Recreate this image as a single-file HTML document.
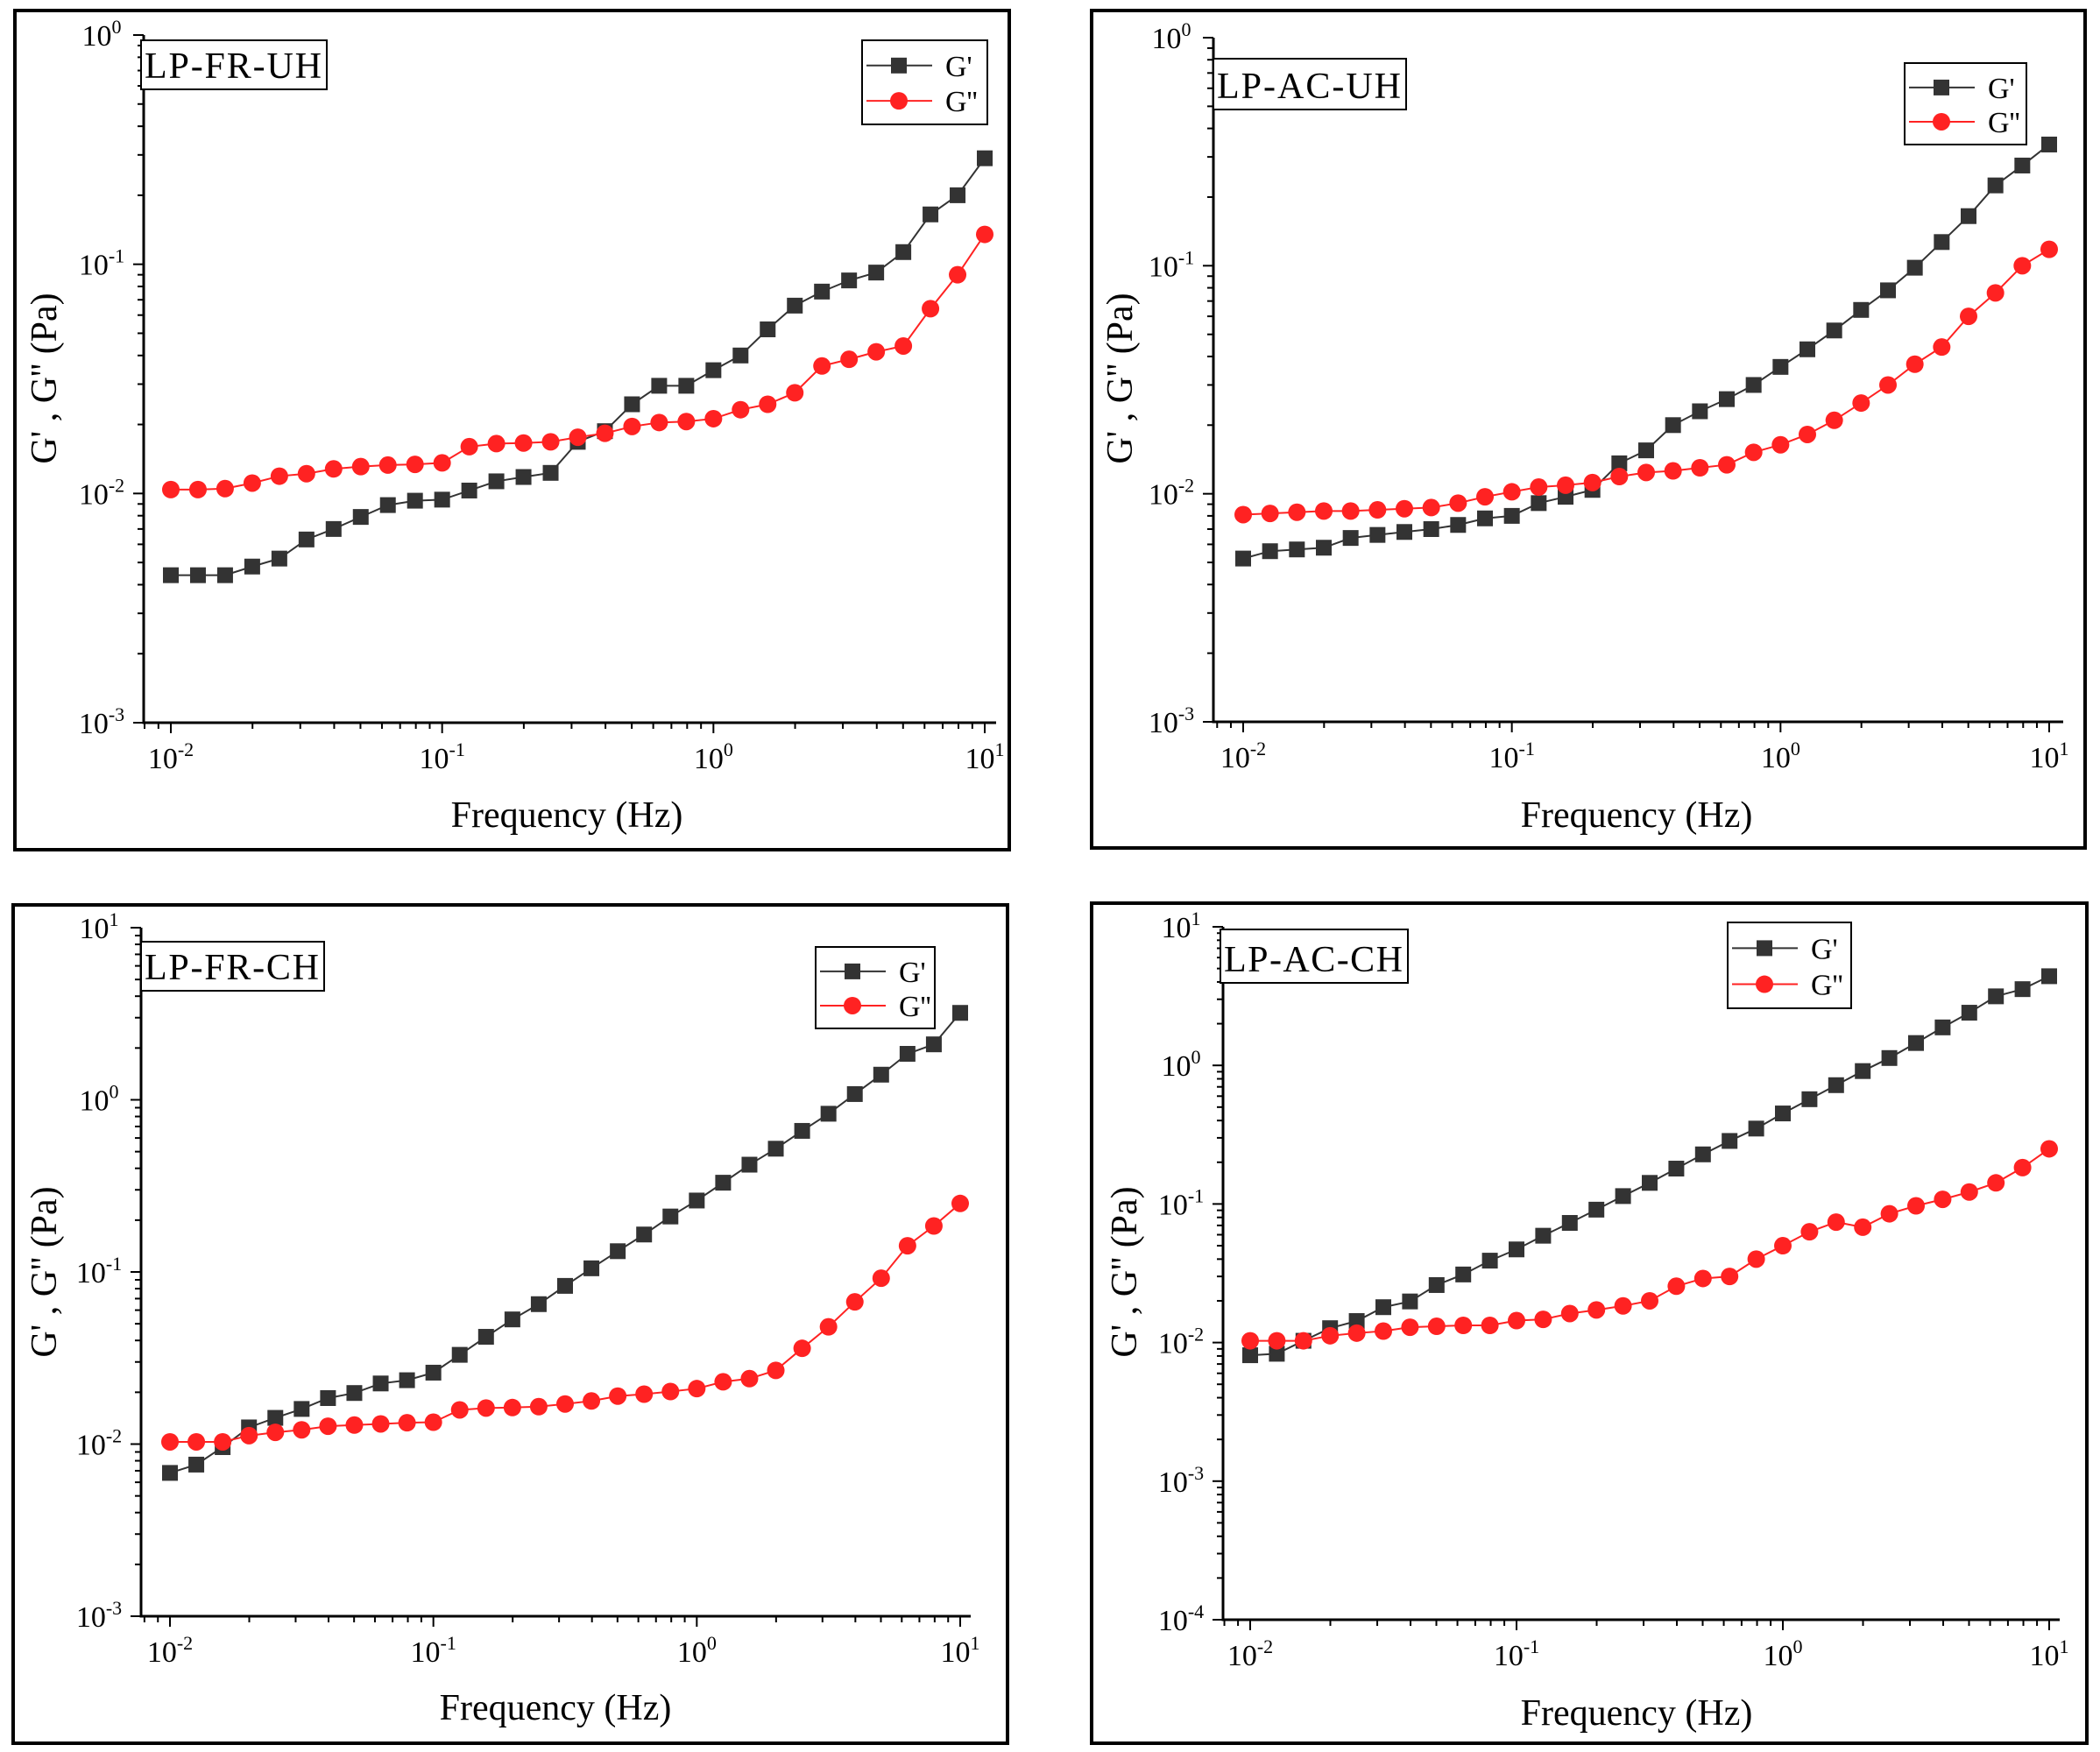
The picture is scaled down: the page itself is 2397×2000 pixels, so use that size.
<!DOCTYPE html>
<html><head><meta charset="utf-8"><style>
html,body{margin:0;padding:0;background:#fff}
svg{display:block}
svg text{font-family:"Liberation Serif","Times New Roman",serif;fill:#000}
</style></head><body>
<svg id="fig" width="2397" height="2000" viewBox="0 0 2397 2000" xmlns="http://www.w3.org/2000/svg" font-family="Liberation Serif, serif"></svg>
<script>
const freqs = Array.from({length:31},(_,i)=>Math.pow(10,-2+i*0.1));
const p1G1 = [0.0044,0.0044,0.0044,0.0048,0.0052,0.0063,0.0070,0.0079,0.0089,0.0093,0.0094,0.0103,0.0113,0.0118,0.0123,0.0168,0.0187,0.0245,0.0295,0.0295,0.0345,0.040,0.052,0.066,0.076,0.085,0.092,0.113,0.165,0.20,0.29];
const p1G2 = [0.0104,0.0104,0.0105,0.0111,0.0119,0.0122,0.0128,0.0131,0.0133,0.0134,0.0136,0.0160,0.0165,0.0166,0.0168,0.0176,0.0183,0.0196,0.0204,0.0206,0.0212,0.0232,0.0245,0.0275,0.036,0.0385,0.0415,0.044,0.064,0.09,0.135];
const p2G1 = [0.0052,0.0056,0.0057,0.0058,0.0064,0.0066,0.0068,0.0070,0.0073,0.0078,0.0080,0.0091,0.0097,0.0104,0.0136,0.0155,0.020,0.023,0.026,0.030,0.036,0.043,0.052,0.064,0.078,0.098,0.127,0.165,0.225,0.275,0.34];
const p2G2 = [0.0081,0.0082,0.0083,0.0084,0.0084,0.0085,0.0086,0.0087,0.0091,0.0097,0.0102,0.0107,0.0109,0.0112,0.0119,0.0124,0.0126,0.0130,0.0134,0.0152,0.0164,0.0182,0.021,0.025,0.030,0.037,0.044,0.060,0.076,0.100,0.118];
const p3G1 = [0.0068,0.0076,0.0096,0.0125,0.0142,0.016,0.0185,0.0198,0.0225,0.0235,0.026,0.033,0.042,0.053,0.065,0.083,0.105,0.132,0.165,0.21,0.26,0.33,0.42,0.52,0.66,0.83,1.08,1.4,1.85,2.1,3.2];
const p3G2 = [0.0103,0.0103,0.0103,0.0112,0.0117,0.0121,0.0127,0.0129,0.0131,0.0133,0.0134,0.0158,0.0162,0.0163,0.0165,0.0171,0.0178,0.0190,0.0195,0.0202,0.0210,0.0230,0.0240,0.0268,0.036,0.048,0.067,0.092,0.142,0.185,0.25];
const p4G1 = [0.0081,0.0083,0.0103,0.0127,0.0143,0.018,0.0198,0.026,0.031,0.039,0.047,0.059,0.073,0.091,0.114,0.142,0.18,0.228,0.285,0.35,0.45,0.57,0.72,0.91,1.13,1.45,1.88,2.4,3.15,3.55,4.4];
const p4G2 = [0.0103,0.0103,0.0103,0.0112,0.0117,0.0121,0.0129,0.0131,0.0133,0.0133,0.0144,0.0147,0.0162,0.0172,0.0184,0.0200,0.0255,0.0290,0.0300,0.0400,0.050,0.063,0.074,0.068,0.085,0.097,0.108,0.122,0.142,0.183,0.25];
const xTickExps = [-2,-1,0,1];
const p1YExps = [-3,-2,-1,0];
const p2YExps = [-3,-2,-1,0];
const p3YExps = [-3,-2,-1,0,1];
const p4YExps = [-4,-3,-2,-1,0,1];
const panelNames = ["LP-FR-UH","LP-AC-UH","LP-FR-CH","LP-AC-CH"];

const NS="http://www.w3.org/2000/svg";
const svg=document.getElementById('fig');
function mk(tag,attrs,parent){const e=document.createElementNS(NS,tag);for(const k in attrs)e.setAttribute(k,attrs[k]);(parent||svg).appendChild(e);return e;}
const FF='Liberation Serif, serif';

const panels=[
 {frame:[17,12,1152,970],ax:[164,40,1137,825],xr:[195,1124],yr:[-3,0],ye:p1YExps,g1:p1G1,g2:p1G2,lab:[161,46,373,102],leg:[984,46,1127,142],yl:[50,432],xl:[647,930]},
 {frame:[1246,12,2380,968],ax:[1385,43,2355,824],xr:[1419,2339],yr:[-3,0],ye:p2YExps,g1:p2G1,g2:p2G2,lab:[1385,67,1605,125],leg:[2174,72,2313,165],yl:[1278,432],xl:[1868,930]},
 {frame:[15,1033,1150,1990],ax:[161,1059,1108,1845],xr:[194,1096],yr:[-3,1],ye:p3YExps,g1:p3G1,g2:p3G2,lab:[161,1075,370,1131],leg:[931,1081,1067,1174],yl:[50,1452],xl:[634,1949]},
 {frame:[1246,1031,2382,1990],ax:[1396,1058,2351,1849],xr:[1427,2339],yr:[-4,1],ye:p4YExps,g1:p4G1,g2:p4G2,lab:[1393,1061,1607,1122],leg:[1972,1053,2113,1151],yl:[1283,1452],xl:[1868,1955]}
];

panels.forEach((P,pi)=>{
 const g=mk('g',{});
 
 
 const [ax0,ay0,ax1,ay1]=P.ax;
 const X=v=>P.xr[0]+(Math.log10(v)+2)/3*(P.xr[1]-P.xr[0]);
 const Y=v=>ay1-(Math.log10(v)-P.yr[0])/(P.yr[1]-P.yr[0])*(ay1-ay0);
 const fr=mk('rect',{x:P.frame[0],y:P.frame[1],width:P.frame[2]-P.frame[0],height:P.frame[3]-P.frame[1],fill:'none',stroke:'#000','stroke-width':4},g);
 
 
 const axes=mk('path',{d:`M${ax0},${ay0}V${ay1}H${ax1}`,fill:'none',stroke:'#000','stroke-width':3},g);
 
 
 for(let e=-2;e<=1;e++){
  for(let m=1;m<=9;m++){const v=m*Math.pow(10,e);if(v>10.5)break;const x=X(v);
   mk('line',{x1:x,y1:ay1,x2:x,y2:ay1+(m===1?12:7),stroke:'#000','stroke-width':2},g);}
 }
 [0.008,0.009].forEach(v=>{const x=X(v);if(x>ax0)mk('line',{x1:x,y1:ay1,x2:x,y2:ay1+7,stroke:'#000','stroke-width':2},g);});
 xTickExps.forEach(e=>{
  const t=mk('text',{x:X(Math.pow(10,e)),y:ay1+52,'font-size':34,'text-anchor':'middle','font-family':FF},g);
  
  
  t.innerHTML='10<tspan dy="-14" font-size="22">'+e+'</tspan>';
 });
 for(let e=P.yr[0];e<=P.yr[1];e++){
  for(let m=1;m<=9;m++){const v=m*Math.pow(10,e);if(Math.log10(v)>P.yr[1]+1e-9)break;const y=Y(v);
   mk('line',{x1:ax0,y1:y,x2:ax0-(m===1?12:7),y2:y,stroke:'#000','stroke-width':2},g);}
 }
 P.ye.forEach(e=>{
  const t=mk('text',{x:ax0-48,y:Y(Math.pow(10,e))+12,'font-size':34,'text-anchor':'middle','font-family':FF},g);
  
  
  t.innerHTML='10<tspan dy="-14" font-size="22">'+e+'</tspan>';
 });
 const yt=mk('text',{x:0,y:0,'font-size':42,'text-anchor':'middle','font-family':FF,transform:`translate(${P.yl[0]+14},${P.yl[1]}) rotate(-90)`},g);
 
 
 yt.textContent="G' , G'' (Pa)";
 const xt=mk('text',{x:P.xl[0],y:P.xl[1]+14,'font-size':42,'text-anchor':'middle','font-family':FF},g);
 
 
 xt.textContent='Frequency (Hz)';
 const d1=P.g1.map((v,i)=>(i?'L':'M')+X(freqs[i])+','+Y(v)).join('');
 const l1=mk('path',{d:d1,fill:'none',stroke:'#333','stroke-width':2},g);
 
 
 const d2=P.g2.map((v,i)=>(i?'L':'M')+X(freqs[i])+','+Y(v)).join('');
 const l2=mk('path',{d:d2,fill:'none',stroke:'#f22','stroke-width':2},g);
 
 
 P.g1.forEach((v,i)=>{const r=mk('rect',{x:X(freqs[i])-9,y:Y(v)-9,width:18,height:18,fill:'#333'},g);
  
  });
 P.g2.forEach((v,i)=>{const c=mk('circle',{cx:X(freqs[i]),cy:Y(v),r:10,fill:'#f22'},g);
  
  });
 const [lx0,ly0,lx1,ly1]=P.lab;
 const lb=mk('rect',{x:lx0,y:ly0,width:lx1-lx0,height:ly1-ly0,fill:'#fff',stroke:'#000','stroke-width':2},g);
 
 
 const lt=mk('text',{x:lx0+4,y:ly1-13,'font-size':42,'font-family':FF,textLength:lx1-lx0-10},g);
 
 
 lt.textContent=panelNames[pi];
 const [gx0,gy0,gx1,gy1]=P.leg;
 const lgb=mk('rect',{x:gx0,y:gy0,width:gx1-gx0,height:gy1-gy0,fill:'#fff',stroke:'#000','stroke-width':2},g);
 
 
 const h=(gy1-gy0);const ya=gy0+h*0.3, yb=gy0+h*0.72;
 mk('line',{x1:gx0+5,y1:ya,x2:gx0+80,y2:ya,stroke:'#333','stroke-width':2},g);
 mk('rect',{x:gx0+33,y:ya-9,width:18,height:18,fill:'#333'},g);
 const e1=mk('text',{x:gx0+95,y:ya+12,'font-size':34,'font-family':FF},g);
 
 
 e1.textContent="G'";
 mk('line',{x1:gx0+5,y1:yb,x2:gx0+80,y2:yb,stroke:'#f22','stroke-width':2},g);
 mk('circle',{cx:gx0+42,cy:yb,r:10,fill:'#f22'},g);
 const e2=mk('text',{x:gx0+95,y:yb+12,'font-size':34,'font-family':FF},g);
 
 
 e2.textContent="G''";
});
</script>
</body></html>
